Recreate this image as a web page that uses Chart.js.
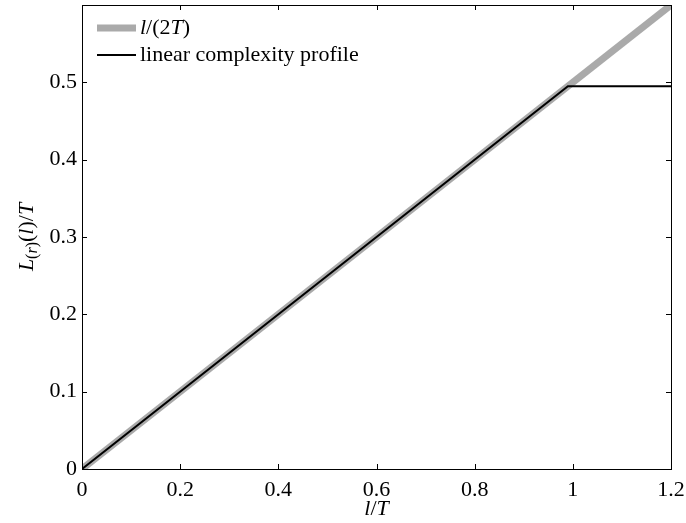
<!DOCTYPE html>
<html>
<head>
<meta charset="utf-8">
<script src="https://cdn.jsdelivr.net/npm/chart.js@4"></script>
<style>
  html, body { margin: 0; padding: 0; background: #fff; }
  #wrap { width: 686px; height: 523px; }
</style>
</head>
<body>
<div id="wrap"><canvas id="chart"></canvas></div>
<script>
// data
const refX = [0, 1.2];
const refY = [0, 0.6];
const profileX = [0, 0.99, 1.2];
const profileY = [0, 0.495, 0.495];
const xTicks = [0, 0.2, 0.4, 0.6, 0.8, 1, 1.2];
const yTicks = [0, 0.1, 0.2, 0.3, 0.4, 0.5];

const FONT = 'Liberation Serif';
const SIZE = 22;

function toPoints(xs, ys) {
    return xs.map((x, i) => ({ x: x, y: ys[i] }));
}

// draws a run of text pieces, some italic, some lowered
function drawRich(ctx, parts, x, y, align) {
    let total = 0;
    parts.forEach(p => {
        ctx.font = (p.italic ? 'italic ' : '') + (p.size || SIZE) + 'px "' + FONT + '"';
        p.w = ctx.measureText(p.t).width;
        total += p.w;
    });
    let cx = align === 'center' ? x - total / 2 : x;
    parts.forEach(p => {
        ctx.font = (p.italic ? 'italic ' : '') + (p.size || SIZE) + 'px "' + FONT + '"';
        ctx.fillText(p.t, cx, y + (p.dy || 0));
        cx += p.w;
    });
}

function noPad(s) {
    s.paddingTop = 0; s.paddingBottom = 0;
    s.paddingLeft = 0; s.paddingRight = 0;
}

const boxPlugin = {
    id: 'box',
    afterDraw(chart) {
        const ctx = chart.ctx;
        const a = chart.chartArea;
        const xs = chart.scales.x, ys = chart.scales.y;
        ctx.save();
        ctx.strokeStyle = '#000';
        ctx.lineWidth = 1;
        ctx.strokeRect(a.left + 0.5, a.top + 0.5, a.right - a.left, a.bottom - a.top);
        ctx.beginPath();
        xTicks.forEach(v => {
            const px = Math.round(xs.getPixelForValue(v)) + 0.5;
            ctx.moveTo(px, a.bottom); ctx.lineTo(px, a.bottom - 5);
            ctx.moveTo(px, a.top); ctx.lineTo(px, a.top + 5);
        });
        yTicks.forEach(v => {
            const py = Math.round(ys.getPixelForValue(v)) + 0.5;
            ctx.moveTo(a.left, py); ctx.lineTo(a.left + 5, py);
            ctx.moveTo(a.right, py); ctx.lineTo(a.right - 5, py);
        });
        ctx.stroke();

        // legend
        ctx.lineWidth = 7;
        ctx.strokeStyle = '#aaaaaa';
        ctx.beginPath(); ctx.moveTo(97, 28); ctx.lineTo(136, 28); ctx.stroke();
        ctx.lineWidth = 2;
        ctx.strokeStyle = '#000';
        ctx.beginPath(); ctx.moveTo(97, 55); ctx.lineTo(136, 55); ctx.stroke();
        ctx.fillStyle = '#000';
        ctx.textBaseline = 'middle';
        ctx.textAlign = 'left';
        drawRich(ctx, [{ t: 'l', italic: true }, { t: '/(2' }, { t: 'T', italic: true }, { t: ')' }], 140, 28);
        drawRich(ctx, [{ t: 'linear complexity profile' }], 140, 55);

        // axis titles
        drawRich(ctx, [{ t: 'l', italic: true }, { t: '/' }, { t: 'T', italic: true }], (a.left + a.right) / 2, 509, 'center');
        ctx.translate(27, 237);
        ctx.rotate(-Math.PI / 2);
        drawRich(ctx, [
            { t: 'L', italic: true },
            { t: '(', size: 16, dy: 6 }, { t: 'r', italic: true, size: 16, dy: 6 }, { t: ')', size: 16, dy: 6 },
            { t: '(' }, { t: 'l', italic: true }, { t: ')/' }, { t: 'T', italic: true }
        ], 0, 0, 'center');
        ctx.restore();
    }
};

new Chart(document.getElementById('chart'), {
    type: 'line',
    data: {
        datasets: [
            {
                label: 'l/(2T)',
                data: toPoints(refX, refY),
                borderColor: '#aaaaaa',
                borderWidth: 7,
                pointRadius: 0,
                order: 1
            },
            {
                label: 'linear complexity profile',
                data: toPoints(profileX, profileY),
                borderColor: '#000000',
                borderWidth: 2,
                pointRadius: 0,
                order: 0
            }
        ]
    },
    options: {
        responsive: true,
        maintainAspectRatio: false,
        animation: false,
        layout: { padding: { left: 0, right: 15, top: 5, bottom: 0 } },
        plugins: {
            legend: { display: false },
            tooltip: { enabled: false }
        },
        scales: {
            x: {
                type: 'linear',
                min: 0,
                max: 1.2,
                afterBuildTicks: s => { s.ticks = xTicks.map(v => ({ value: v })); },
                afterFit: s => { s.height = 54; noPad(s); },
                grid: { display: false, drawTicks: false },
                border: { display: false },
                ticks: {
                    font: { family: FONT, size: SIZE },
                    color: '#000',
                    padding: 8,
                    maxRotation: 0,
                    callback: v => String(v)
                }
            },
            y: {
                type: 'linear',
                min: 0,
                max: 0.6,
                afterBuildTicks: s => { s.ticks = yTicks.map(v => ({ value: v })); },
                afterFit: s => { s.width = 82; noPad(s); },
                grid: { display: false, drawTicks: false },
                border: { display: false },
                ticks: {
                    font: { family: FONT, size: SIZE },
                    color: '#000',
                    padding: 5,
                    callback: v => String(v)
                }
            }
        }
    },
    plugins: [boxPlugin]
});
</script>
</body>
</html>
